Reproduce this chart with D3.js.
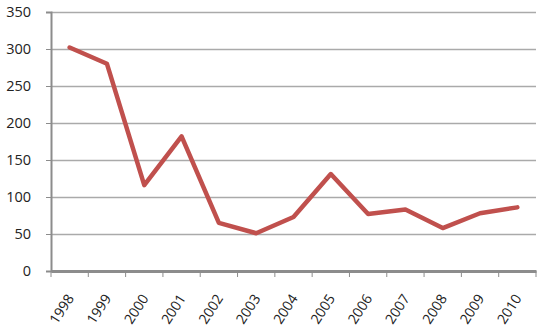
<!DOCTYPE html>
<html>
<head>
<meta charset="utf-8">
<script src="https://cdn.jsdelivr.net/npm/d3@7"></script>
<style>
  body { margin: 0; background: #fff; }
  text { font-family: "Open Sans", "Liberation Sans", sans-serif; fill: #222; }
</style>
</head>
<body>
<svg id="chart"></svg>
<script>
let years = ['1998','1999','2000','2001','2002','2003','2004','2005','2006','2007','2008','2009','2010']
let values = [302, 280, 116, 182, 65, 51, 73, 131, 77, 83, 58, 78, 86]
let yTicks = [0, 50, 100, 150, 200, 250, 300, 350]

let width = 545
let height = 335

let margin = {
    top: 12,
    right: 9,
    bottom: 64,
    left: 51
}

let chartWidth = width - margin.left - margin.right
let chartHeight = height - margin.top - margin.bottom

const svg = d3.select('#chart')
    .attr('width', width)
    .attr('height', height)

const g = svg.append('g')
    .attr('transform', `translate(${margin.left},${margin.top})`)

let x = d3.scaleBand().domain(years).range([0, chartWidth])
let y = d3.scaleLinear().domain([0, 350]).range([chartHeight, 0])

// gridlines
g.selectAll('.grid')
    .data(yTicks.filter(d => d > 0))
    .enter().append('line')
    .attr('x1', 0)
    .attr('x2', chartWidth)
    .attr('y1', d => Math.round(y(d)) + 0.5)
    .attr('y2', d => Math.round(y(d)) + 0.5)
    .attr('stroke', '#aaaaaa')
    .attr('stroke-width', 1.5)

// y axis
let yAxis = g.append('g')
    .call(d3.axisLeft(y).tickValues(yTicks).tickSize(5).tickPadding(15))
yAxis.select('.domain').attr('stroke', '#8c8c8c').attr('stroke-width', 2)
yAxis.selectAll('.tick line').attr('stroke', '#8c8c8c')
yAxis.selectAll('text')
    .style('font-size', '14.5px')
    .attr('fill', '#1c1c1c')

// x axis
let xAxis = g.append('g')
    .attr('transform', `translate(0,${chartHeight})`)
    .call(d3.axisBottom(x).tickSize(0).tickFormat(''))
xAxis.select('.domain').attr('stroke', '#8c8c8c').attr('stroke-width', 3)

// x ticks at band edges
let edges = years.map(d => x(d)).concat([chartWidth])
g.selectAll('.xtick')
    .data(edges)
    .enter().append('line')
    .attr('x1', d => d)
    .attr('x2', d => d)
    .attr('y1', chartHeight)
    .attr('y2', chartHeight + 6)
    .attr('stroke', '#8c8c8c')
    .attr('stroke-width', 1)

// x labels
g.selectAll('.xlabel')
    .data(years)
    .enter().append('text')
    .attr('transform', d => `translate(${x(d) + x.bandwidth() / 2 - 8},${chartHeight + 38}) rotate(-57)`)
    .attr('text-anchor', 'middle')
    .attr('dy', '0.35em')
    .style('font-size', '14px')
    .attr('fill', '#1c1c1c')
    .text(d => d)

// line
let line = d3.line()
    .x((d, i) => x(years[i]) + x.bandwidth() / 2)
    .y(d => y(d))

g.append('path')
    .datum(values)
    .attr('d', line)
    .attr('fill', 'none')
    .attr('stroke', '#c0504d')
    .attr('stroke-width', 4.5)
    .attr('stroke-linejoin', 'round')
    .attr('stroke-linecap', 'round')
</script>
</body>
</html>
